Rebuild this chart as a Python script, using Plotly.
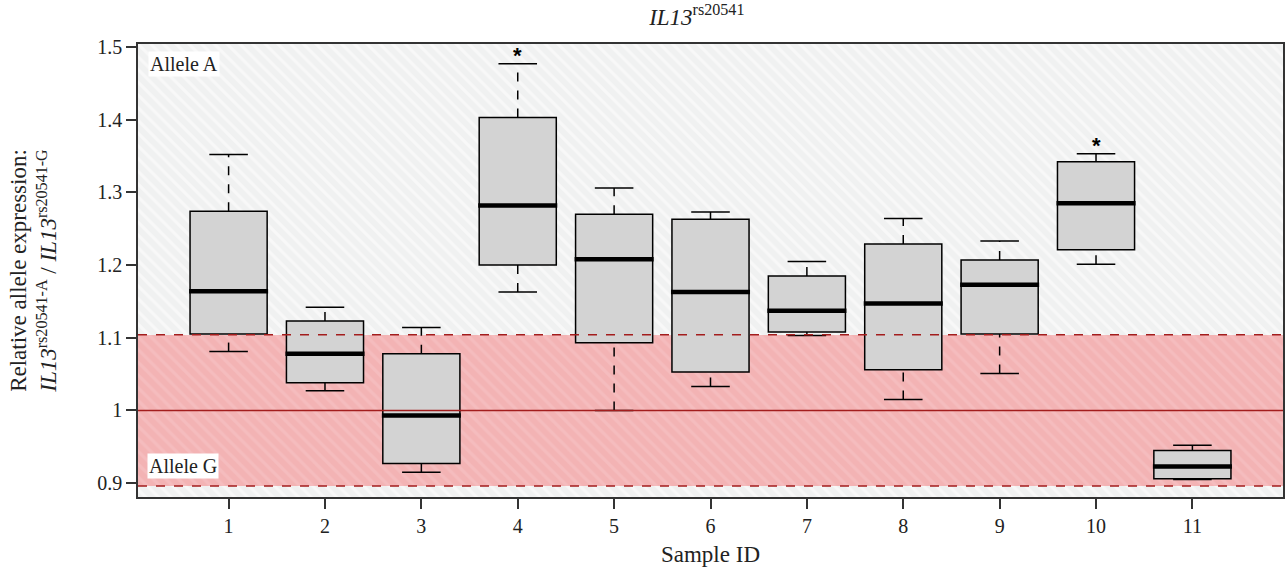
import plotly.graph_objects as go

# ---- data ----
samples = [1, 2, 3, 4, 5, 6, 7, 8, 9, 10, 11]
tick_labels = [str(s) for s in samples]
lower_whisker = [1.081, 1.027, 0.915, 1.163, 1.000, 1.033, 1.103, 1.015, 1.051, 1.201, 0.905]
q1 = [1.105, 1.038, 0.927, 1.200, 1.093, 1.053, 1.108, 1.056, 1.105, 1.221, 0.906]
median = [1.164, 1.078, 0.993, 1.282, 1.208, 1.163, 1.137, 1.147, 1.173, 1.285, 0.923]
q3 = [1.274, 1.123, 1.078, 1.403, 1.270, 1.263, 1.185, 1.229, 1.207, 1.342, 0.945]
upper_whisker = [1.352, 1.142, 1.114, 1.477, 1.306, 1.273, 1.205, 1.264, 1.233, 1.353, 0.952]
significant = [4, 10]

y_min, y_max = 0.881, 1.504
x_min, x_max = 0.06, 11.94
band_low, band_high, ref_line = 0.896, 1.104, 1.0
y_ticks = [0.9, 1.0, 1.1, 1.2, 1.3, 1.4, 1.5]
y_tick_labels = ["0.9", "1", "1.1", "1.2", "1.3", "1.4", "1.5"]

BOX_W = 0.8
CAP_W = 0.4
FONT = "Liberation Serif"
TXT = "#222222"

fig = go.Figure()

# background (hatched) regions
fig.add_trace(go.Bar(
    x=[(x_min + x_max) / 2], y=[y_max - y_min], base=[y_min], width=[x_max - x_min],
    marker=dict(color="#f0f1f1", line=dict(width=0),
                pattern=dict(shape="\\", fgcolor="#ffffff", size=9, solidity=0.35)),
    showlegend=False, hoverinfo="skip"))
fig.add_trace(go.Bar(
    x=[(x_min + x_max) / 2], y=[band_high - band_low], base=[band_low], width=[x_max - x_min],
    marker=dict(color="#f3b3b4", line=dict(width=0),
                pattern=dict(shape="\\", fgcolor="#f7c6c7", size=9, solidity=0.35)),
    showlegend=False, hoverinfo="skip"))

# whiskers (dashed)
wx, wy = [], []
for s, lw, a, b, uw in zip(samples, lower_whisker, q1, q3, upper_whisker):
    wx += [s, s, None, s, s, None]
    wy += [lw, a, None, b, uw, None]
fig.add_trace(go.Scatter(x=wx, y=wy, mode="lines",
                         line=dict(color="black", width=1.5, dash="dash"),
                         showlegend=False, hoverinfo="skip"))
# caps
cx, cy = [], []
for s, lw, uw in zip(samples, lower_whisker, upper_whisker):
    cx += [s - CAP_W / 2, s + CAP_W / 2, None, s - CAP_W / 2, s + CAP_W / 2, None]
    cy += [lw, lw, None, uw, uw, None]
fig.add_trace(go.Scatter(x=cx, y=cy, mode="lines",
                         line=dict(color="black", width=1.5),
                         showlegend=False, hoverinfo="skip"))

# boxes
for s, a, m, b in zip(samples, q1, median, q3):
    fig.add_trace(go.Box(x=[s], q1=[a], median=[m], q3=[b], lowerfence=[a], upperfence=[b],
                         width=BOX_W, fillcolor="#d3d3d3",
                         line=dict(color="black", width=1.5),
                         whiskerwidth=0, showlegend=False, hoverinfo="skip"))

# medians (thick)
mx, my = [], []
for s, m in zip(samples, median):
    mx += [s - BOX_W / 2 - 0.01, s + BOX_W / 2 + 0.01, None]
    my += [m, m, None]
fig.add_trace(go.Scatter(x=mx, y=my, mode="lines",
                         line=dict(color="black", width=4.5),
                         showlegend=False, hoverinfo="skip"))

# significance asterisks
for s in significant:
    fig.add_annotation(x=s, y=upper_whisker[samples.index(s)], text="<b>*</b>",
                       showarrow=False, yanchor="bottom", yshift=-6,
                       font=dict(family="Liberation Sans", size=22, color="black"))

# reference lines
fig.add_shape(type="line", xref="paper", x0=0, x1=1, y0=ref_line, y1=ref_line,
              line=dict(color="#a31d1d", width=1.5))
for yv in (band_low, band_high):
    fig.add_shape(type="line", xref="paper", x0=0, x1=1, y0=yv, y1=yv,
                  line=dict(color="#a31d1d", width=1.5, dash="dash"))

# region labels
fig.add_annotation(text="Allele A", xref="paper", yref="paper", x=0.009, y=0.984,
                   xanchor="left", yanchor="top", showarrow=False, bgcolor="white",
                   font=dict(family=FONT, size=20, color=TXT), borderpad=1)
fig.add_annotation(text="Allele G", xref="paper", x=0.008, y=0.924,
                   xanchor="left", yanchor="middle", showarrow=False, bgcolor="white",
                   font=dict(family=FONT, size=20, color=TXT), borderpad=1)

fig.update_layout(
    width=1288, height=569,
    margin=dict(l=138, r=3, t=44, b=72),
    paper_bgcolor="white", plot_bgcolor="white",
    barmode="overlay", boxmode="overlay", bargap=0,
    title=dict(text="<i>IL13</i><sup>rs20541</sup>", x=0.541, xanchor="center", y=0.985,
               yanchor="top", font=dict(family=FONT, size=23, color=TXT)),
    font=dict(family=FONT, color=TXT),
    xaxis=dict(range=[x_min, x_max], tickmode="array", tickvals=samples, ticktext=tick_labels,
               ticks="outside", ticklen=10, tickwidth=1.5, tickcolor="#333",
               showline=True, linecolor="#333", linewidth=1.5, mirror=True,
               showgrid=False, zeroline=False,
               tickfont=dict(family=FONT, size=20, color=TXT),
               title=dict(text="Sample ID", font=dict(family=FONT, size=23, color=TXT), standoff=10)),
    yaxis=dict(range=[y_min, y_max], tickmode="array",
               tickvals=y_ticks, ticktext=y_tick_labels,
               ticks="outside", ticklen=10, tickwidth=1.5, tickcolor="#333",
               showline=True, linecolor="#333", linewidth=1.5, mirror=True,
               showgrid=False, zeroline=False,
               tickfont=dict(family=FONT, size=20, color=TXT),
               title=dict(text="Relative allele expression:<br><i>IL13</i><sup>rs20541-A</sup> / <i>IL13</i><sup>rs20541-G</sup>",
                          font=dict(family=FONT, size=23, color=TXT), standoff=34)),
)

fig.write_html("out.html")
